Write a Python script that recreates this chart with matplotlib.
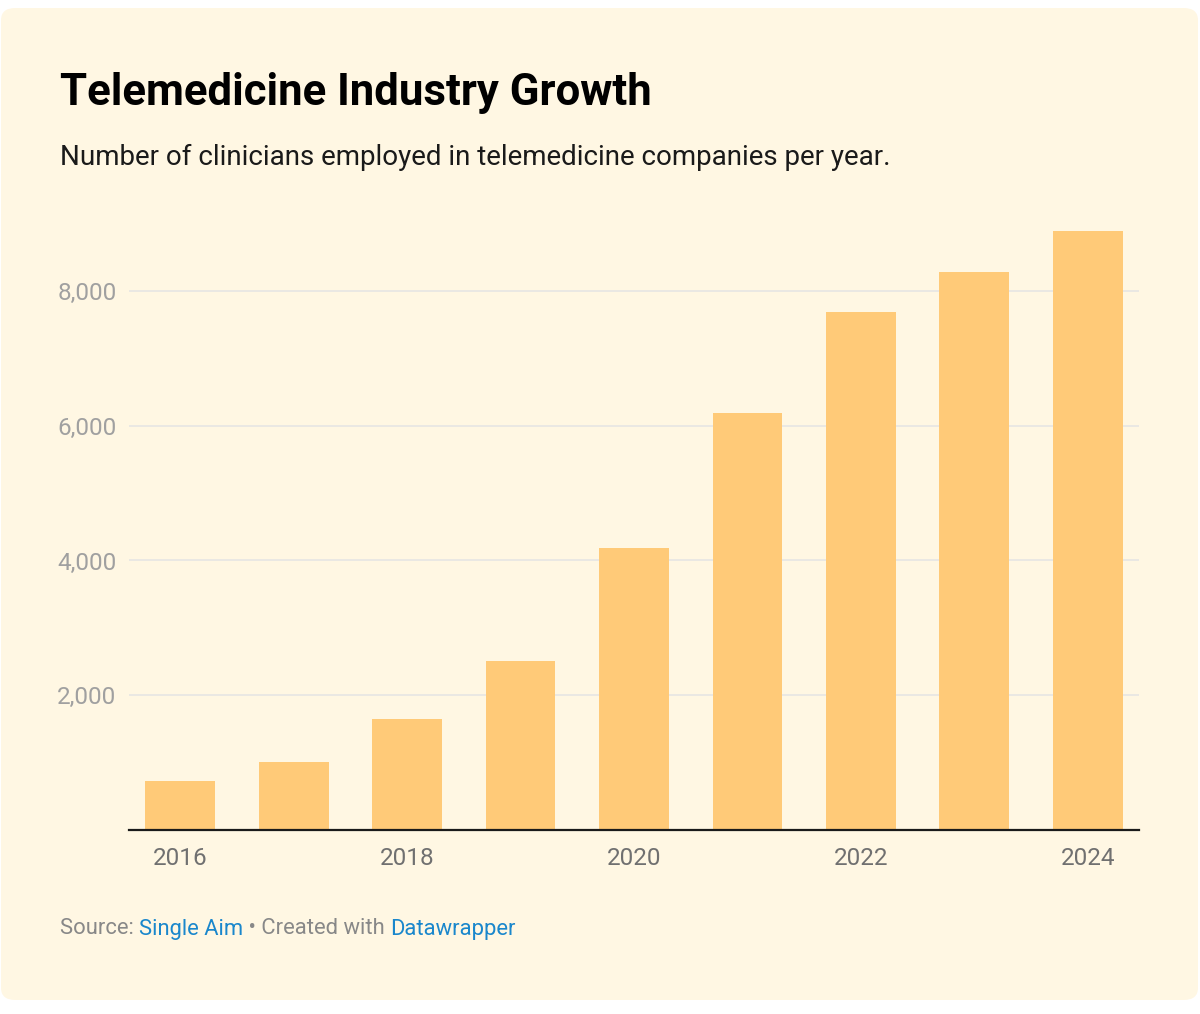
import matplotlib
matplotlib.use('Agg')
import matplotlib.pyplot as plt
from matplotlib.patches import FancyBboxPatch
from matplotlib.ticker import FuncFormatter

plt.rcParams['font.family'] = ['Roboto', 'DejaVu Sans']

# data
years = ['2016', '2017', '2018', '2019', '2020', '2021', '2022', '2023', '2024']
clinicians = [720, 1010, 1650, 2510, 4180, 6190, 7690, 8280, 8890]
y_ticks = [2000, 4000, 6000, 8000]
x_label_years = ['2016', '2018', '2020', '2022', '2024']

BG = '#fff7e3'
BAR = '#ffca78'

fig = plt.figure(figsize=(12, 10.14), dpi=100)
fig.patch.set_facecolor('white')

# rounded card behind everything
W, H = 1200, 1014
card = FancyBboxPatch((1 / W, (H - 1000) / H), 1197 / W, 992 / H,
                      boxstyle='round,pad=0,rounding_size=0.012',
                      transform=fig.transFigure, facecolor=BG,
                      edgecolor='none', zorder=-5)
fig.patches.append(card)

ax = fig.add_axes([129 / W, 184 / H, 1010 / W, (830 - 223.6) / H])
ax.set_facecolor('none')
ax.set_zorder(2)

x = list(range(len(years)))
ax.bar(x, clinicians, width=0.616, color=BAR, zorder=2)

ax.set_xlim(-0.45, len(years) - 1 + 0.45)
ax.set_ylim(0, 9000)

ax.set_yticks(y_ticks)
ax.yaxis.set_major_formatter(FuncFormatter(lambda v, p: f'{v:,.0f}'))
ax.grid(axis='y', color='#e4e4e4', linewidth=1.1, zorder=1)
ax.set_axisbelow(True)
ax.tick_params(axis='y', length=0, pad=9, labelsize=17.5, labelcolor='#a0a0a0')

ax.set_xticks([years.index(y) for y in x_label_years])
ax.set_xticklabels(x_label_years)
ax.tick_params(axis='x', length=0, pad=12, labelsize=17.5, labelcolor='#707070')

for side in ['top', 'right', 'left']:
    ax.spines[side].set_visible(False)
ax.spines['bottom'].set_color('#1a1a1a')
ax.spines['bottom'].set_linewidth(1.6)
ax.spines['bottom'].set_zorder(3)

# titles
fig.text(60 / W, 1 - 93 / H, 'Telemedicine Industry Growth', fontsize=31.5,
         fontweight='bold', color='black', va='center', ha='left')
fig.text(60 / W, 1 - 157 / H,
         'Number of clinicians employed in telemedicine companies per year.',
         fontsize=20, color='#1a1a1a', va='center', ha='left')

# footer with coloured links
parts = [('Source: ', '#888888'), ('Single Aim', '#1a87cc'),
         (' \u2022 Created with ', '#888888'), ('Datawrapper', '#1a87cc')]
fig.canvas.draw()
renderer = fig.canvas.get_renderer()
xpos = 60
for txt, col in parts:
    t = fig.text(xpos / W, 1 - 929 / H, txt, fontsize=15.8, color=col,
                 va='center', ha='left')
    bb = t.get_window_extent(renderer=renderer)
    xpos += bb.width

fig.savefig('out.png', dpi=100, facecolor=fig.get_facecolor())
